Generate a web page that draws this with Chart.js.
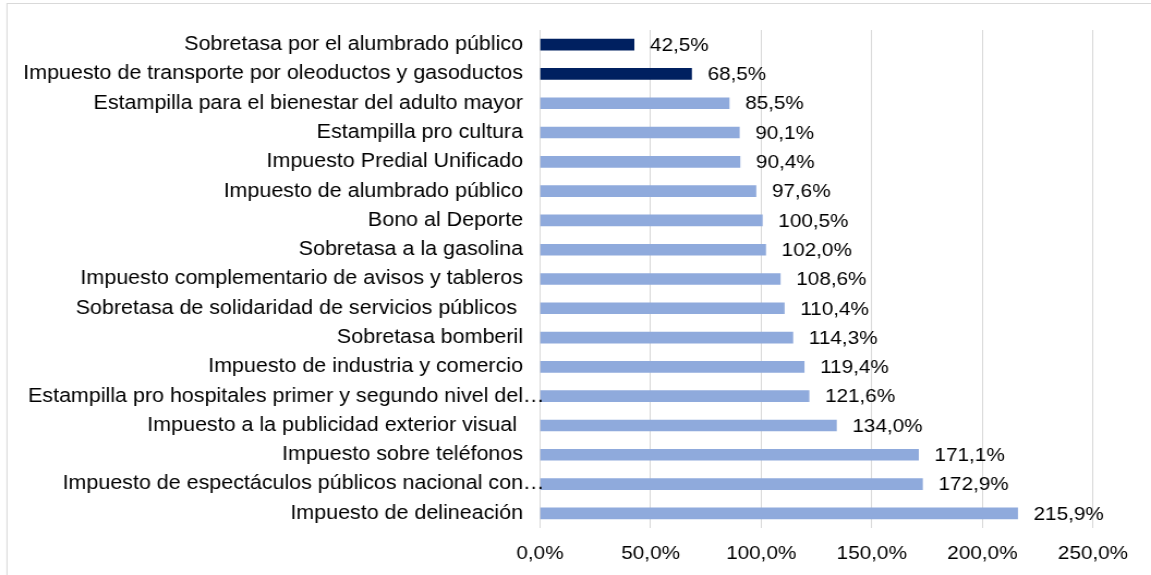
<!DOCTYPE html>
<html>
<head>
<meta charset="utf-8">
<script src="https://cdn.jsdelivr.net/npm/chart.js@4/dist/chart.umd.min.js"></script>
<style>
html,body{margin:0;padding:0;background:#fff;overflow:hidden;}
canvas{display:block;transform-origin:0 0;}
</style>
</head>
<body>
<canvas id="c" width="1056" height="575"></canvas>
<script>
const categories = [
  "Sobretasa por el alumbrado público",
  "Impuesto de transporte por oleoductos y gasoductos",
  "Estampilla para el bienestar del adulto mayor",
  "Estampilla pro cultura",
  "Impuesto Predial Unificado",
  "Impuesto de alumbrado público",
  "Bono al Deporte",
  "Sobretasa a la gasolina",
  "Impuesto complementario de avisos y tableros",
  "Sobretasa de solidaridad de servicios públicos ",
  "Sobretasa bomberil",
  "Impuesto de industria y comercio",
  "Estampilla pro hospitales primer y segundo nivel del…",
  "Impuesto a la publicidad exterior visual ",
  "Impuesto sobre teléfonos",
  "Impuesto de espectáculos públicos nacional con…",
  "Impuesto de delineación"
];
const values = [42.5, 68.5, 85.5, 90.1, 90.4, 97.6, 100.5, 102.0, 108.6, 110.4, 114.3, 119.4, 121.6, 134.0, 171.1, 172.9, 215.9];
const highlighted = [true, true, false, false, false, false, false, false, false, false, false, false, false, false, false, false, false];
const xTicks = [0, 50, 100, 150, 200, 250];

const FONT = "'Liberation Sans', Arial, sans-serif";
const S = 1151 / 1056; // horizontal stretch of the whole picture
const fmt = v => v.toFixed(1).replace('.', ',') + '%';
const cv = document.getElementById('c');
cv.style.transform = 'scaleX(' + S + ')';

const frame = {
  id: 'frame',
  beforeDraw(chart) {
    const ctx = chart.ctx;
    ctx.save();
    ctx.fillStyle = '#fff';
    ctx.fillRect(0, 0, chart.width, chart.height);
    ctx.strokeStyle = '#D9D9D9';
    ctx.lineWidth = 1;
    ctx.strokeRect(7 / S, 3.5, 1300, 700);
    ctx.restore();
  }
};

// category labels: right-aligned, with a trailing ellipsis allowed to overflow
const categoryLabels = {
  id: 'categoryLabels',
  afterDraw(chart) {
    const ctx = chart.ctx;
    const y = chart.scales.y;
    const xr = chart.chartArea.left - 17 / S;
    ctx.save();
    ctx.font = '19.7px ' + FONT;
    ctx.fillStyle = '#000';
    ctx.textBaseline = 'middle';
    chart.data.labels.forEach((lab, i) => {
      const py = y.getPixelForValue(i);
      if (lab.endsWith('…')) {
        ctx.textAlign = 'right';
        ctx.fillText(lab.slice(0, -1), xr, py);
        ctx.textAlign = 'left';
        ctx.fillText('…', xr, py);
      } else {
        ctx.textAlign = 'right';
        ctx.fillText(lab, xr, py);
      }
    });
    ctx.restore();
  }
};

const valueLabels = {
  id: 'valueLabels',
  afterDatasetsDraw(chart) {
    const ctx = chart.ctx;
    const meta = chart.getDatasetMeta(0);
    ctx.save();
    ctx.font = '19px ' + FONT;
    ctx.fillStyle = '#000';
    ctx.textAlign = 'left';
    ctx.textBaseline = 'middle';
    meta.data.forEach((el, i) => {
      ctx.fillText(fmt(values[i]), el.x + 16 / S, el.y + 1);
    });
    ctx.restore();
  }
};

new Chart(cv, {
  type: 'bar',
  data: {
    labels: categories,
    datasets: [{
      data: values,
      backgroundColor: highlighted.map(h => h ? '#002060' : '#8FAADC'),
      barThickness: 11
    }]
  },
  options: {
    indexAxis: 'y',
    responsive: false,
    animation: false,
    layout: { padding: { top: 30, right: 1056 - 1093 / S, bottom: 0, left: 0 } },
    plugins: { legend: { display: false }, tooltip: { enabled: false } },
    scales: {
      x: {
        min: 0, max: 250,
        afterBuildTicks(scale) { scale.ticks = xTicks.map(v => ({ value: v })); },
        afterFit(scale) { scale.height = 47; },
        grid: { color: '#D9D9D9', drawTicks: false },
        border: { display: false },
        ticks: {
          padding: 14,
          color: '#000',
          font: { family: FONT, size: 19 },
          callback: v => fmt(v)
        }
      },
      y: {
        afterFit(scale) { scale.width = 540 / S; },
        grid: { display: false, drawTicks: false },
        border: { display: false },
        ticks: { display: false }
      }
    }
  },
  plugins: [frame, categoryLabels, valueLabels]
});
</script>
</body>
</html>
